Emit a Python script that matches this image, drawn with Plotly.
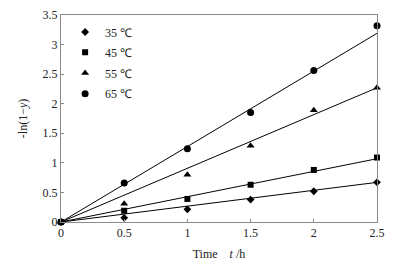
import plotly.graph_objects as go

t = [0, 0.5, 1, 1.5, 2, 2.5]
labels = ["35 ℃", "45 ℃", "55 ℃", "65 ℃"]
v35 = [0, 0.07, 0.215, 0.38, 0.52, 0.67]
v45 = [0, 0.19, 0.39, 0.63, 0.88, 1.09]
v55 = [0, 0.31, 0.80, 1.29, 1.89, 2.27]
v65 = [0, 0.66, 1.24, 1.85, 2.56, 3.32]
fit_t = [0, 2.5]
fit35 = [0, 0.67]
fit45 = [0, 1.07]
fit55 = [0, 2.27]
fit65 = [0, 3.19]
x_ticks = [0, 0.5, 1, 1.5, 2, 2.5]
y_ticks = [0, 0.5, 1, 1.5, 2, 2.5, 3, 3.5]
y_ticklabels = ["0", "0.5", "1", "1.5", "2", "2.5", "3", "3.5"]

series = [v35, v45, v55, v65]
fits = [fit35, fit45, fit55, fit65]
symbols = ["diamond", "square", "triangle-up", "circle"]
sizes = [6, 6, 7, 7]
legend_ids = ["legend", "legend2", "legend3", "legend4"]
legend_y = [0.988, 0.890, 0.790, 0.690]

FONT = "Liberation Serif"
fig = go.Figure()
for vals, f in zip(series, fits):
    fig.add_trace(go.Scatter(x=fit_t, y=f, mode="lines", line=dict(color="black", width=1),
                             showlegend=False, hoverinfo="skip"))
for i, vals in enumerate(series):
    fig.add_trace(go.Scatter(x=t, y=vals, mode="markers", name=labels[i],
                             marker=dict(symbol=symbols[i], size=sizes[i], color="black"),
                             cliponaxis=False, legend=legend_ids[i]))

layout_legends = {}
for i, lid in enumerate(legend_ids):
    layout_legends[lid] = dict(x=0.013, y=legend_y[i], xanchor="left", yanchor="top",
                               bgcolor="rgba(0,0,0,0)", font=dict(family=FONT, size=12, color="#222"),
                               itemwidth=30, tracegroupgap=0)

axis_common = dict(showline=True, linecolor="#8a8a8a", linewidth=1, mirror=True, automargin=False,
                   ticks="inside", ticklen=3, tickcolor="#8a8a8a", showgrid=False, zeroline=False,
                   tickfont=dict(family=FONT, size=12, color="#222"))

fig.update_layout(
    width=402, height=265,
    margin=dict(l=53, r=33, t=7, b=51),
    paper_bgcolor="white", plot_bgcolor="white",
    showlegend=True,
    xaxis=dict(range=[0, 2.5], tickvals=x_ticks, ticktext=[str(v) for v in x_ticks],
               title=dict(text="Time\u00a0\u00a0\u00a0\u00a0<i>t</i> /h", standoff=10,
                          font=dict(family=FONT, size=12, color="#222")), **axis_common),
    yaxis=dict(range=[0, 3.5], tickvals=y_ticks, ticktext=y_ticklabels,
               title=dict(text="-ln(1\u2212<i>y</i>)", standoff=12,
                          font=dict(family=FONT, size=12, color="#222")), **axis_common),
    **layout_legends,
)
fig.write_html("out.html")
